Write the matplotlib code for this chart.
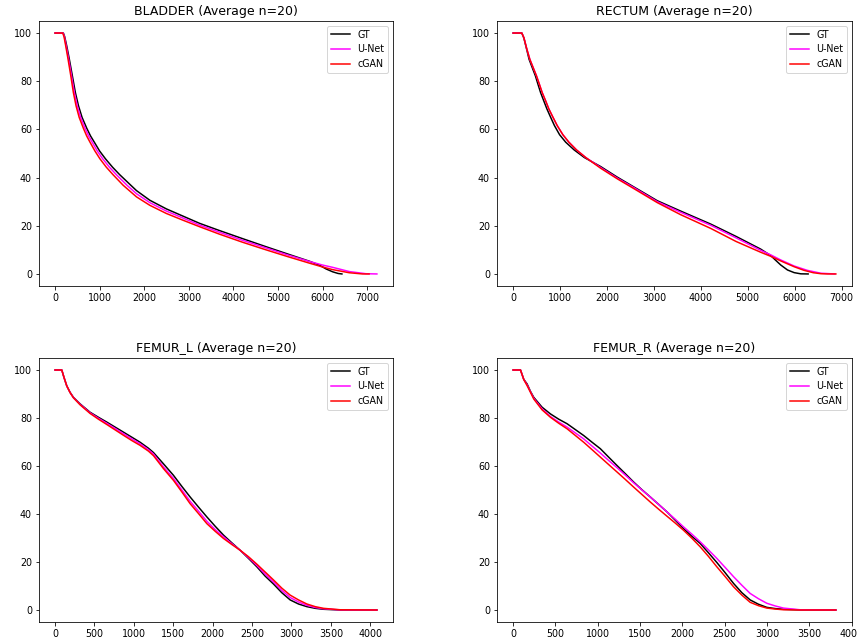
import matplotlib
matplotlib.use("Agg")
import matplotlib.pyplot as plt

# ---------------- data ----------------
series_labels = ["GT", "U-Net", "cGAN"]
series_colors = ["black", "magenta", "red"]
titles = ["BLADDER (Average n=20)", "RECTUM (Average n=20)",
          "FEMUR_L (Average n=20)", "FEMUR_R (Average n=20)"]

# BLADDER
bladder_gt_x = [0, 186, 215, 262, 320, 385, 455, 525, 605, 710, 795, 880, 1000, 1130, 1290, 1450, 1700, 1826, 2125, 2497, 2870, 3243, 3690, 4200, 4734, 5200, 5703, 5927, 6077, 6226, 6350, 6435]
bladder_gt_y = [100, 100, 98.5, 94.6, 89.1, 82.5, 75.3, 69.8, 65.0, 60.5, 57.3, 54.7, 51.0, 47.8, 44.3, 41.2, 36.8, 34.6, 30.6, 27.0, 24.0, 21.0, 18.0, 14.7, 11.3, 8.4, 5.3, 3.7, 2.1, 0.9, 0.2, 0]
bladder_unet_x = [0, 180, 208, 250, 305, 367, 432, 497, 572, 672, 752, 832, 948, 1068, 1220, 1375, 1614, 1826, 2125, 2497, 2870, 3243, 3690, 4200, 4734, 5200, 5703, 6000, 6226, 6600, 6973, 7220]
bladder_unet_y = [100, 100, 98.5, 94.6, 89.1, 82.5, 75.3, 69.8, 65.0, 60.5, 57.3, 54.7, 51.0, 47.8, 44.3, 41.2, 36.8, 33.3, 29.6, 26.1, 23.2, 20.3, 17.3, 14.0, 10.8, 8.0, 5.2, 3.7, 2.75, 1.0, 0.1, 0]
bladder_cgan_x = [0, 171, 200, 239, 291, 350, 410, 470, 540, 634, 708, 783, 895, 1006, 1150, 1300, 1528, 1826, 2125, 2497, 2870, 3243, 3690, 4200, 4734, 5200, 5703, 6000, 6226, 6600, 6895, 7045]
bladder_cgan_y = [100, 100, 98.5, 94.6, 89.1, 82.5, 75.3, 69.8, 65.0, 60.5, 57.3, 54.7, 51.0, 47.8, 44.3, 41.2, 36.8, 32.0, 28.5, 25.1, 22.3, 19.6, 16.5, 13.2, 10.0, 7.3, 4.5, 2.9, 1.8, 0.5, 0, 0]

# RECTUM
rectum_gt_x = [0, 185, 228, 285, 340, 410, 475, 530, 585, 650, 720, 800, 880, 990, 1120, 1300, 1520, 1864, 2219, 2575, 3073, 3571, 4212, 4750, 5278, 5493, 5600, 5705, 5848, 5990, 6133, 6288]
rectum_gt_y = [100, 100, 98.0, 93.5, 89.1, 85.5, 82.2, 78.7, 75.3, 72.0, 68.5, 65.0, 61.6, 57.8, 54.7, 51.5, 48.3, 44.6, 40.2, 36.1, 30.4, 26.1, 20.7, 15.6, 10.3, 7.6, 5.6, 3.7, 1.65, 0.55, 0.05, 0]
rectum_unet_x = [0, 185, 230, 290, 356, 430, 498, 560, 619, 690, 761, 850, 939, 1060, 1188, 1350, 1550, 1864, 2219, 2575, 3073, 3571, 4212, 4750, 5278, 5493, 5705, 5990, 6270, 6560, 6860]
rectum_unet_y = [100, 100, 98.0, 93.5, 89.1, 85.5, 82.2, 78.7, 75.3, 72.0, 68.5, 65.0, 61.6, 57.8, 54.7, 51.5, 48.3, 44.2, 39.8, 35.8, 30.0, 25.6, 20.2, 15.0, 9.8, 7.9, 5.8, 3.3, 1.5, 0.3, 0]
rectum_cgan_x = [0, 185, 230, 290, 356, 430, 498, 560, 619, 690, 761, 850, 939, 1060, 1188, 1350, 1550, 1864, 2219, 2575, 3073, 3571, 4212, 4750, 5278, 5493, 5705, 5990, 6200, 6400, 6560, 6700, 6879]
rectum_cgan_y = [100, 100, 98.0, 93.5, 89.1, 85.5, 82.2, 78.7, 75.3, 72.0, 68.5, 65.0, 61.6, 57.8, 54.7, 51.5, 48.3, 43.9, 39.5, 35.4, 29.6, 24.6, 18.9, 13.5, 9.0, 7.3, 5.4, 3.0, 1.5, 0.5, 0.1, 0, 0]

# FEMUR_L
femurl_x = [0, 85, 114, 148, 190, 233, 317, 444, 550, 656, 868, 974, 1079, 1185, 1249, 1376, 1503, 1609, 1714, 1820, 1926, 2032, 2138, 2243, 2349, 2455, 2561, 2667, 2773, 2878, 2984, 3090, 3196, 3302, 3407, 3619, 4085]
femurl_gt_y = [100, 100, 96.8, 93.4, 90.7, 88.6, 85.9, 82.4, 80.3, 78.3, 74.1, 72.0, 69.9, 67.4, 65.6, 60.9, 56.1, 51.5, 47.1, 42.9, 38.8, 34.9, 31.2, 28.0, 24.9, 21.5, 18.0, 14.1, 10.8, 7.2, 4.2, 2.5, 1.4, 0.7, 0.3, 0, 0]
femurl_unet_y = [100, 100, 96.8, 93.4, 90.65, 88.5, 85.7, 82.15, 79.9, 77.8, 73.45, 71.3, 69.25, 66.8, 64.95, 59.6, 54.8, 50.0, 45.3, 41.2, 37.0, 33.5, 30.5, 27.65, 24.9, 21.85, 18.55, 14.95, 11.65, 8.15, 5.2, 3.35, 1.95, 1.05, 0.5, 0.05, 0]
femurl_cgan_y = [100, 100, 96.8, 93.4, 90.6, 88.4, 85.5, 81.9, 79.5, 77.3, 72.8, 70.6, 68.6, 66.2, 64.3, 58.9, 54.0, 49.2, 44.3, 40.2, 36.0, 32.8, 29.8, 27.3, 24.9, 22.2, 19.1, 15.8, 12.5, 9.1, 6.2, 4.2, 2.5, 1.4, 0.7, 0.1, 0]

# FEMUR_R
femurr_x = [0, 87, 126, 165, 205, 244, 342, 441, 539, 638, 834, 933, 1031, 1129, 1228, 1326, 1425, 1523, 1621, 1720, 1818, 1917, 2015, 2113, 2212, 2310, 2408, 2507, 2605, 2704, 2802, 2900, 2999, 3097, 3195, 3392, 3815]
femurr_gt_y = [100, 100, 96.1, 94.2, 91.1, 88.6, 84.5, 81.7, 79.5, 77.6, 72.7, 69.9, 67.2, 63.7, 60.2, 56.8, 53.3, 50.1, 47.1, 44.0, 40.9, 37.4, 33.9, 30.7, 27.7, 23.8, 19.8, 15.5, 11.1, 7.2, 4.2, 2.4, 1.1, 0.6, 0.3, 0.05, 0]
femurr_unet_y = [100, 100, 96.0, 93.8, 90.9, 88.2, 83.8, 80.6, 78.3, 76.2, 71.3, 68.3, 65.4, 62.3, 59.3, 56.2, 53.0, 50.0, 47.1, 44.0, 40.9, 37.8, 34.6, 31.6, 28.4, 25.0, 21.5, 17.7, 13.9, 10.3, 6.9, 4.7, 2.8, 1.7, 0.8, 0.1, 0]
femurr_cgan_y = [100, 100, 96.0, 93.5, 90.7, 87.9, 83.4, 80.3, 77.8, 75.5, 69.9, 66.8, 63.7, 60.6, 57.5, 54.4, 51.2, 48.1, 45.0, 42.0, 39.1, 36.2, 33.2, 29.9, 26.3, 22.3, 18.0, 13.9, 9.7, 6.2, 3.2, 1.8, 0.8, 0.4, 0.1, 0, 0]

panels = [
    [(bladder_gt_x, bladder_gt_y), (bladder_unet_x, bladder_unet_y), (bladder_cgan_x, bladder_cgan_y)],
    [(rectum_gt_x, rectum_gt_y), (rectum_unet_x, rectum_unet_y), (rectum_cgan_x, rectum_cgan_y)],
    [(femurl_x, femurl_gt_y), (femurl_x, femurl_unet_y), (femurl_x, femurl_cgan_y)],
    [(femurr_x, femurr_gt_y), (femurr_x, femurr_unet_y), (femurr_x, femurr_cgan_y)],
]

# ---------------- figure ----------------
W, H, DPI = 857, 642, 72
fig = plt.figure(figsize=(W / DPI, H / DPI), dpi=DPI)

# axes boxes in pixels: (left, top, right, bottom)
boxes = [(39, 21, 393, 286), (497, 21, 852, 286),
         (39, 358, 393, 622), (497, 358, 852, 622)]

for box, title, series in zip(boxes, titles, panels):
    l, t, r, b = box
    ax = fig.add_axes([l / W, 1 - b / H, (r - l) / W, (b - t) / H])
    for (xs, ys), lab, col in zip(series, series_labels, series_colors):
        ax.plot(xs, ys, color=col, label=lab, lw=1.5, solid_joinstyle="round")
    ax.set_title(title, fontsize=12.5)
    ax.set_yticks([0, 20, 40, 60, 80, 100])
    ax.tick_params(labelsize=9.5)
    ax.legend(loc="upper right", fontsize=9.5)

fig.savefig("out.png", dpi=DPI)
